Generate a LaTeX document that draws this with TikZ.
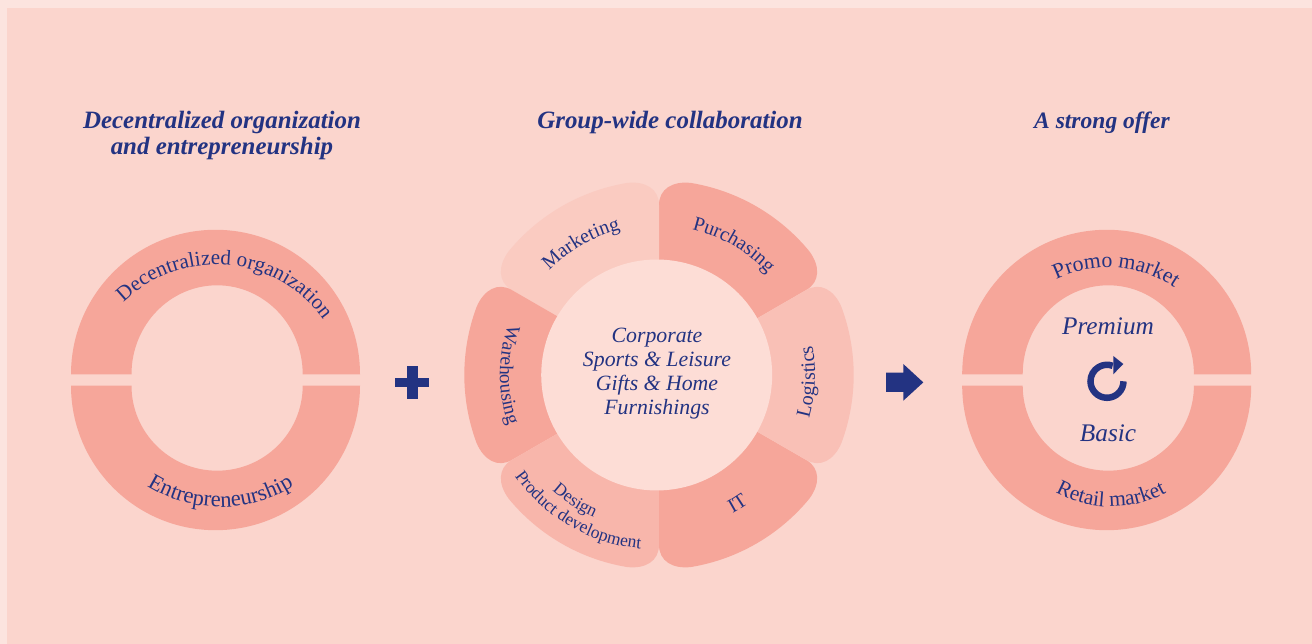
\documentclass[tikz,border=0pt]{standalone}
\usepackage{fontspec}
\setmainfont{Liberation Serif}
\usetikzlibrary{calc}
\usetikzlibrary{decorations.text}

\definecolor{pagepink}{HTML}{FCE4DF}
\definecolor{panelpink}{HTML}{FBD5CD}
\definecolor{ringpink}{HTML}{F6A69A}
\definecolor{hubpink}{HTML}{FDDDD6}
\definecolor{marketingpink}{HTML}{FACBC1}
\definecolor{logisticspink}{HTML}{F9C0B6}
\definecolor{designpink}{HTML}{F8B6AB}
\definecolor{navy}{HTML}{233382}

\newcommand{\heading}[1]{\fontsize{#1}{14.8}\selectfont\bfseries\itshape}
\newcommand{\arclabel}[1]{\color{navy}\fontsize{#1}{14}\selectfont}

\tikzset{
  headnode/.style={text=navy, align=center, font=\heading{#1}, inner sep=0pt},
  hubnode/.style={text=navy, align=center, inner sep=0pt,
    font=\fontsize{12.4}{13.7}\selectfont\itshape},
  tiernode/.style={text=navy, inner sep=0pt,
    font=\fontsize{14.4}{16}\selectfont\itshape},
  alongarc/.style 2 args={decorate, decoration={text along path, text align=center,
    text={|\arclabel{#1}|#2}}},
  ringfill/.style={fill=ringpink},
  signfill/.style={fill=navy}
}

% half rings: centre, inner x radius, inner y radius
\newcommand{\upperring}[3]{
  \fill[ringfill] ($(#1)+(-144.5,0)$) arc[start angle=180, end angle=0, radius=144.5]
    -- ++(-57.3,0) arc[start angle=0, end angle=180, x radius=#2, y radius=#3] -- cycle;
}
\newcommand{\lowerring}[3]{
  \fill[ringfill] ($(#1)+(-144.5,0)$) arc[start angle=180, end angle=360, radius=144.5]
    -- ++(-57.3,0) arc[start angle=360, end angle=180, x radius=#2, y radius=#3] -- cycle;
}

\begin{document}
\begin{tikzpicture}[x=0.02cm, y=0.02cm]
  \useasboundingbox (0,0) rectangle (1312,644);
  \fill[pagepink] (0,0) rectangle (1312,644);
  \fill[panelpink] (7,0) rectangle (1312,636);

  \node[headnode=14.2] (headleft) at (222,508.5) {Decentralized organization\\and entrepreneurship};
  \node[headnode=14.2] (headmid) at (670,521.5) {Group-wide collaboration};
  \node[headnode=13.4] (headright) at (1102,521.5) {A strong offer};

  % left ring
  \coordinate (leftup) at (215.5,269.7);
  \coordinate (leftlow) at (215.5,258.3);
  \upperring{leftup}{85.6}{89}
  \lowerring{leftlow}{85.6}{85}
  \path[alongarc={12}{Decentralized organization}] (216,247.4) ++(155:132) arc[start angle=155, end angle=15, radius=132];
  \path[alongarc={12.8}{Entrepreneurship}] (220.5,276) ++(220:139) arc[start angle=220, end angle=320, radius=139];

  % plus
  \fill[signfill] (407,278) rectangle (417.5,244.5);
  \fill[signfill] (395,256.5) rectangle (429,266);

  % petals
  \coordinate (petalc) at (659,269);
  \foreach \ang/\col in {60/ringpink, 120/marketingpink, 180/ringpink, 240/designpink, 300/ringpink, 0/logisticspink}
  {
    \fill[\col, shift={(petalc)}, rotate=\ang]
      (-30:90) -- (-30:170) .. controls (-30:186) and (-26:194.7) .. (-20.5:194.7)
      arc[start angle=-20.5, end angle=20.5, radius=194.7]
      .. controls (26:194.7) and (30:186) .. (30:170) -- (30:90) -- cycle;
  }
  \node[circle, fill=hubpink, minimum size=4.62cm, inner sep=0pt] (hub) at (656.7,269) {};
  \node[hubnode] (hubtext) at (657,270) {Corporate\\Sports \& Leisure\\Gifts \& Home\\Furnishings};

  \coordinate (labelc) at (657,269);
  \path[alongarc={11.4}{Purchasing}] (labelc) ++(85:150) arc[start angle=85, end angle=34, radius=150];
  \path[alongarc={11.4}{Marketing}] (labelc) ++(146:150) arc[start angle=146, end angle=94, radius=150];
  \path[alongarc={11}{Warehousing}] (labelc) ++(145:157) arc[start angle=145, end angle=215, radius=157];
  \path[alongarc={11.4}{Logistics}] (labelc) ++(-32:158) arc[start angle=-32, end angle=27, radius=158];
  \path[alongarc={11.4}{IT}] (labelc) ++(-78:158) arc[start angle=-78, end angle=-38, radius=158];
  \path[alongarc={10}{Design}] (labelc) ++(217:156) arc[start angle=217, end angle=257, radius=156];
  \path[alongarc={10}{Product development}] (labelc) ++(200:174.5) arc[start angle=200, end angle=280, radius=174.5];

  % arrow
  \fill[signfill] (886,271.3) -- (903.3,271.3) -- (903.3,280) -- (923.3,261.6) -- (903.3,243.3) -- (903.3,252) -- (886,252) -- cycle;

  % right ring
  \coordinate (rightup) at (1106.7,269.7);
  \coordinate (rightlow) at (1106.7,258.3);
  \upperring{rightup}{85.6}{89}
  \lowerring{rightlow}{85.6}{85}
  \path[alongarc={12.4}{Promo market}] (1108,257) ++(136:119.5) arc[start angle=136, end angle=36, radius=119.5];
  \path[alongarc={12.2}{Retail market}] (1111,252.3) ++(230:115) arc[start angle=230, end angle=310, radius=115];
  \node[tiernode] (premium) at (1108,317.5) {Premium};
  \node[tiernode] (basic) at (1108,210.5) {Basic};

  % rotate sign
  \coordinate (turnc) at (1107,262.7);
  \draw[navy, line width=0.13cm] ($(turnc)+(16.5,0)$) arc[start angle=0, end angle=-290, radius=16.5];
  \fill[signfill] (1113.3,288) -- (1123.3,280) -- (1113.3,269.7) -- cycle;
\end{tikzpicture}
\end{document}
